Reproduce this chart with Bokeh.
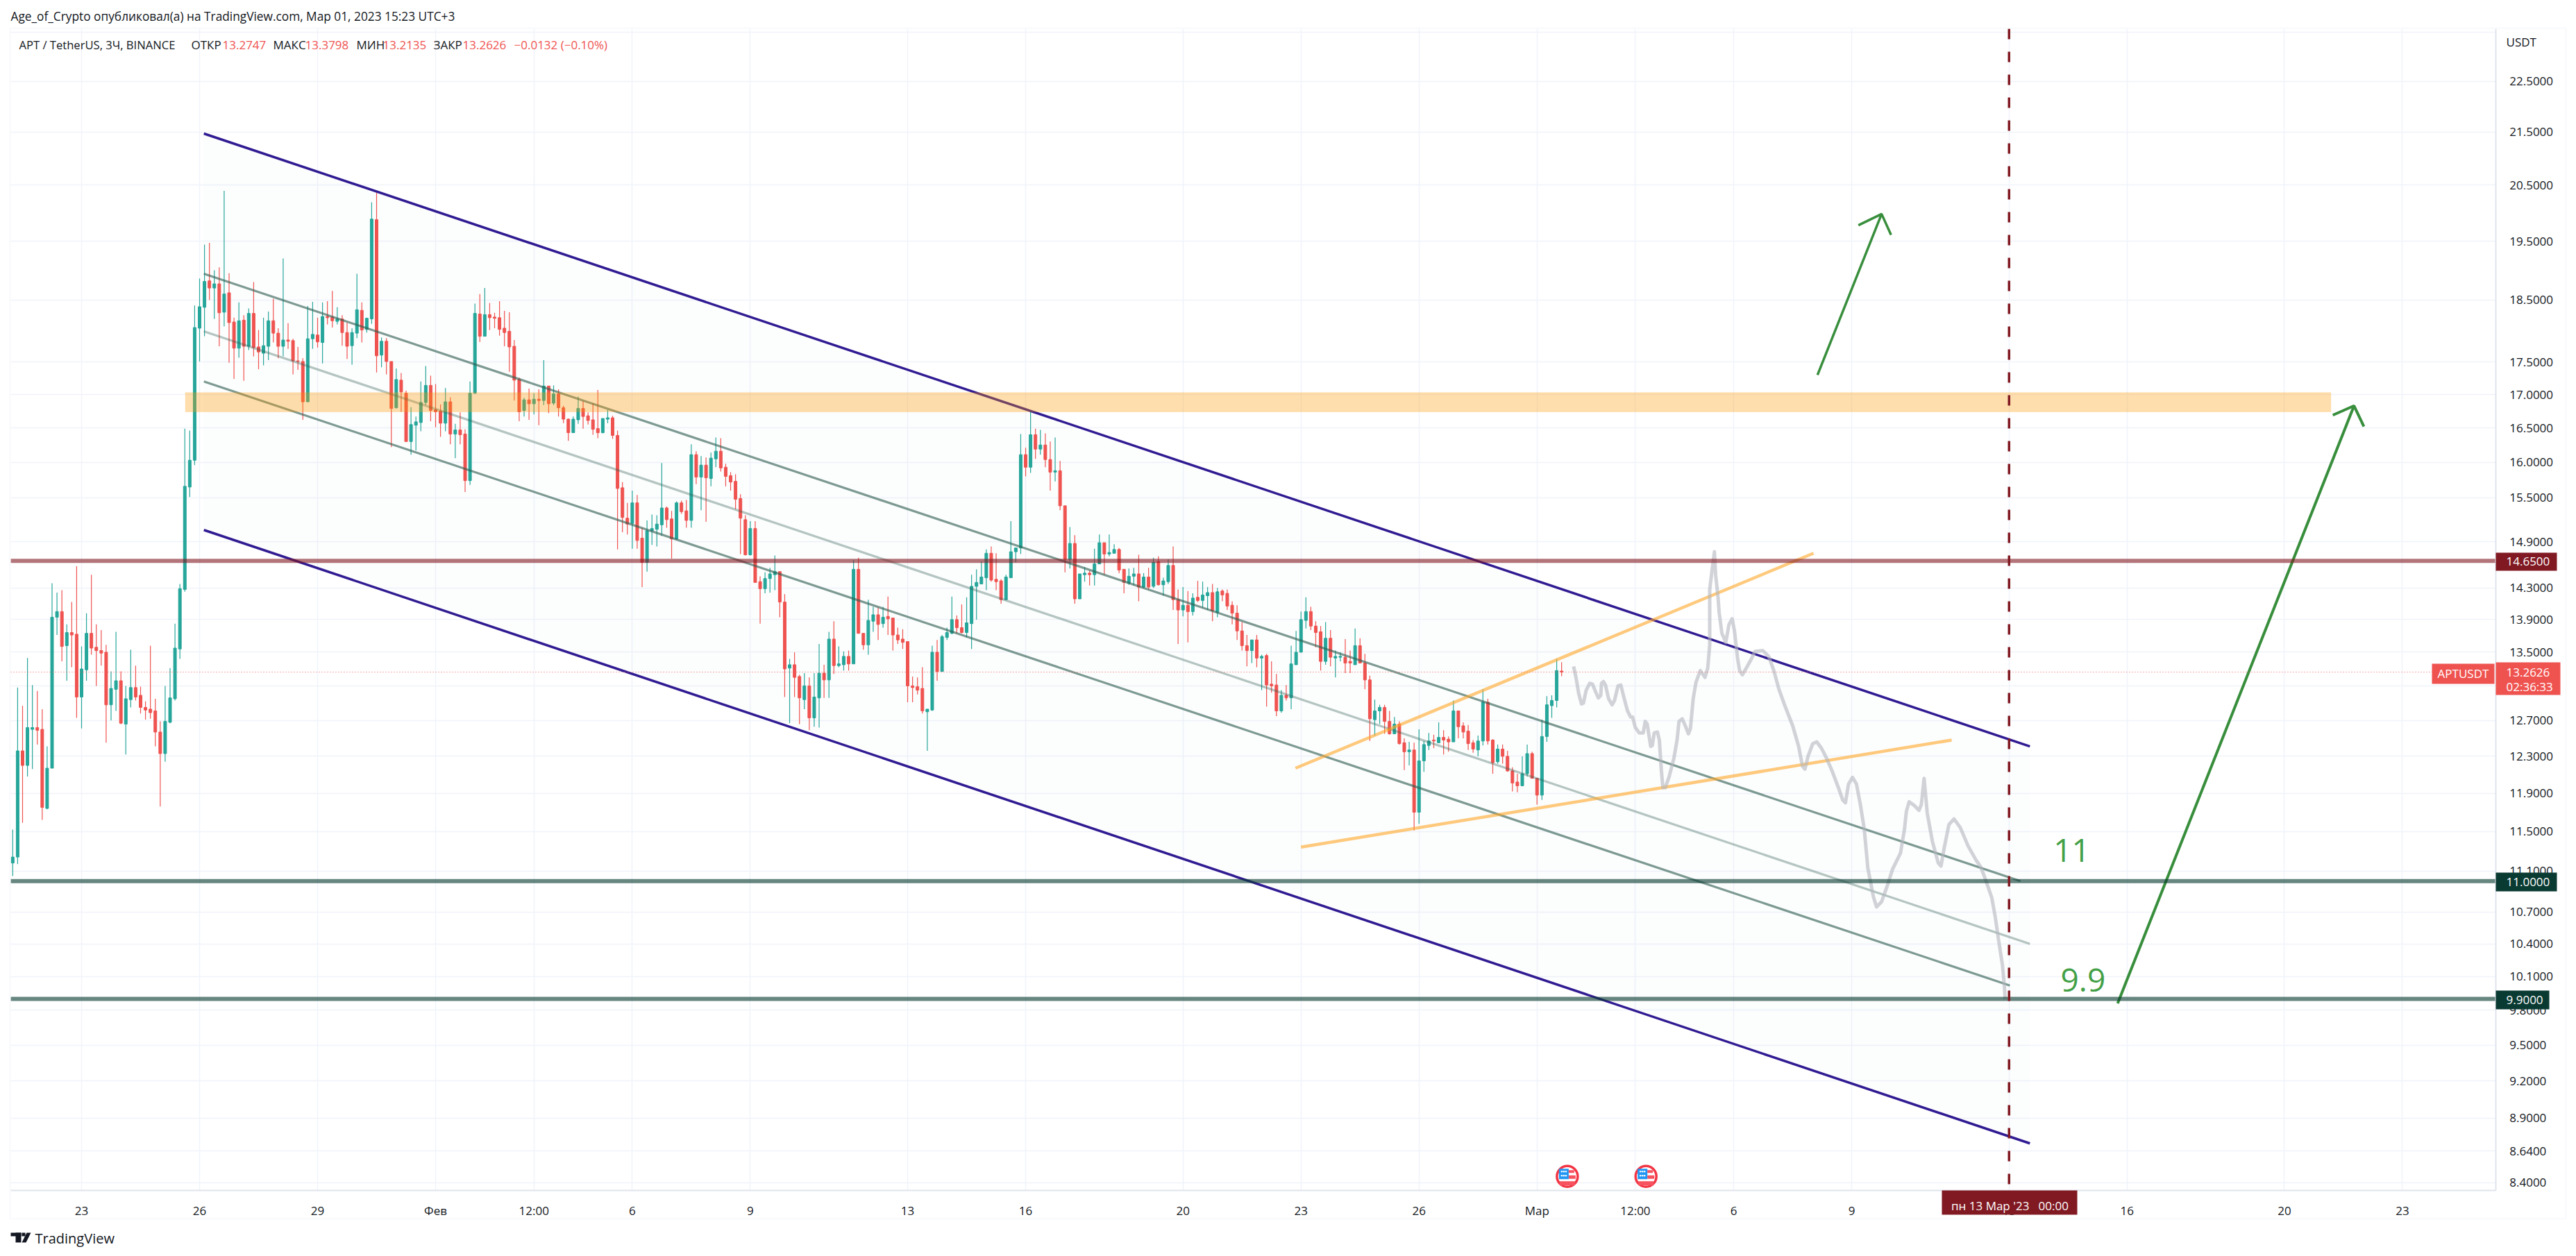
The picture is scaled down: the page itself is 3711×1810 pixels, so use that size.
# APT/USDT 3h chart with channel and levels, drawn like the TradingView snapshot
from math import exp

from bokeh.core.properties import value
from bokeh.embed import file_html
from bokeh.models import BoxAnnotation, ColumnDataSource, FixedTicker, Label, PolyAnnotation, Range1d
from bokeh.plotting import figure
from bokeh.resources import INLINE

# candles, 3h bars, first bar is 1.75 days before Jan 23
first_day = -1.75
bar_step = 0.125

opens = [
    11.18, 11.24, 12.36, 12.20, 12.60, 12.62, 12.60, 11.74, 12.17, 13.93,
    14.00, 13.58, 13.74, 13.72, 12.97, 13.29, 13.73, 13.56, 13.52, 13.50,
    12.88, 13.06, 13.16, 12.66, 12.94, 13.08, 12.99, 12.85, 12.83, 12.81,
    12.57, 12.33, 12.68, 12.95, 13.54, 14.28, 15.65, 16.03, 18.04, 18.38,
    18.82, 18.70, 18.77, 18.30, 18.62, 18.14, 17.72, 18.17, 17.75, 18.28,
    17.74, 17.64, 17.75, 18.16, 17.96, 17.75, 17.85, 17.84, 17.52, 17.51,
    16.89, 17.87, 17.93, 17.81, 18.23, 18.22, 18.15, 18.19, 17.97, 17.76,
    17.96, 18.33, 18.02, 18.19, 19.88, 17.61, 17.83, 17.51, 16.80, 17.22,
    17.02, 16.30, 16.54, 16.58, 16.88, 17.14, 16.77, 16.75, 16.57, 16.89,
    16.41, 16.47, 16.41, 15.74, 17.02, 18.27, 17.91, 18.26, 18.22, 18.21,
    18.04, 17.99, 17.75, 17.23, 16.76, 16.92, 16.86, 16.93, 16.91, 17.13,
    16.87, 17.01, 16.80, 16.63, 16.43, 16.62, 16.79, 16.68, 16.62, 16.49,
    16.43, 16.63, 16.65, 16.39, 15.64, 15.22, 15.15, 15.43, 14.95, 14.63,
    15.05, 15.07, 15.13, 15.36, 15.21, 14.94, 15.43, 15.32, 15.19, 16.11,
    15.79, 15.96, 15.77, 16.05, 16.16, 15.93, 15.81, 15.73, 15.49, 15.20,
    14.73, 15.08, 14.38, 14.29, 14.42, 14.47, 14.51, 14.12, 13.31, 13.35,
    13.21, 12.94, 13.10, 12.73, 12.96, 13.25, 13.17, 13.66, 13.34, 13.35,
    13.45, 13.36, 14.54, 13.73, 13.59, 13.88, 13.96, 13.85, 13.94, 13.92,
    13.71, 13.66, 13.63, 13.10, 13.09, 13.07, 12.80, 12.82, 13.50, 13.27,
    13.68, 13.73, 13.90, 13.80, 13.74, 13.85, 14.32, 14.35, 14.43, 14.75,
    14.41, 14.39, 14.15, 14.43, 14.77, 14.82, 16.11, 15.93, 16.40, 16.19,
    16.25, 16.04, 15.86, 15.88, 15.39, 14.67, 14.88, 14.16, 14.47, 14.49,
    14.47, 14.61, 14.89, 14.74, 14.75, 14.80, 14.54, 14.36, 14.45, 14.48,
    14.31, 14.44, 14.32, 14.64, 14.34, 14.38, 14.59, 14.15, 14.02, 14.08,
    14.00, 14.18, 14.14, 14.20, 14.24, 13.99, 14.26, 14.23, 14.08, 13.98,
    13.76, 13.58, 13.52, 13.65, 13.43, 13.46, 13.12, 13.11, 12.81, 12.99,
    12.96, 13.35, 13.50, 13.89, 14.00, 13.82, 13.75, 13.39, 13.67, 13.43,
    13.44, 13.44, 13.39, 13.35, 13.58, 13.37, 13.17, 12.71, 12.81, 12.85,
    12.69, 12.55, 12.66, 12.45, 12.35, 12.37, 11.70, 12.25, 12.42, 12.48,
    12.45, 12.51, 12.49, 12.46, 12.81, 12.64, 12.58, 12.45, 12.37, 12.47,
    12.91, 12.48, 12.24, 12.38, 12.30, 12.14, 12.02, 11.98, 12.11, 12.33,
    12.06, 11.88, 12.52, 12.87, 12.93, 13.2747,
]
closes = [
    11.24, 12.36, 12.20, 12.62, 12.62, 12.59, 11.75, 12.17, 13.93, 14.00,
    13.57, 13.74, 13.71, 12.97, 13.30, 13.73, 13.55, 13.52, 13.49, 12.88,
    13.07, 13.16, 12.67, 12.95, 13.08, 12.97, 12.85, 12.82, 12.79, 12.57,
    12.33, 12.69, 12.96, 13.55, 14.29, 15.66, 16.03, 18.05, 18.39, 18.81,
    18.70, 18.77, 18.29, 18.60, 18.13, 17.72, 18.16, 17.75, 18.28, 17.73,
    17.66, 17.76, 18.16, 17.96, 17.75, 17.85, 17.83, 17.52, 17.51, 16.89,
    17.87, 17.94, 17.82, 18.23, 18.21, 18.16, 18.19, 17.97, 17.75, 17.97,
    18.34, 18.01, 18.20, 19.89, 17.60, 17.83, 17.51, 16.79, 17.23, 17.04,
    16.30, 16.55, 16.59, 16.88, 17.14, 16.76, 16.74, 16.57, 16.89, 16.41,
    16.47, 16.40, 15.74, 17.02, 18.28, 17.91, 18.26, 18.21, 18.20, 18.02,
    17.97, 17.74, 17.22, 16.74, 16.92, 16.86, 16.93, 16.91, 17.13, 16.86,
    17.01, 16.80, 16.63, 16.43, 16.63, 16.79, 16.67, 16.61, 16.48, 16.43,
    16.64, 16.65, 16.39, 15.63, 15.23, 15.14, 15.43, 14.92, 14.63, 15.05,
    15.08, 15.14, 15.36, 15.20, 14.94, 15.43, 15.31, 15.19, 16.11, 15.79,
    15.96, 15.78, 16.06, 16.16, 15.92, 15.80, 15.72, 15.48, 15.22, 14.73,
    15.08, 14.37, 14.29, 14.42, 14.48, 14.51, 14.12, 13.30, 13.35, 13.20,
    12.96, 13.10, 12.73, 12.97, 13.25, 13.17, 13.66, 13.34, 13.36, 13.45,
    13.36, 14.54, 13.73, 13.59, 13.89, 13.96, 13.84, 13.93, 13.91, 13.71,
    13.65, 13.62, 13.10, 13.08, 13.05, 12.81, 12.83, 13.50, 13.27, 13.69,
    13.74, 13.90, 13.80, 13.74, 13.86, 14.32, 14.37, 14.44, 14.75, 14.40,
    14.38, 14.15, 14.44, 14.77, 14.82, 16.11, 15.93, 16.40, 16.19, 16.25,
    16.04, 15.86, 15.88, 15.39, 14.67, 14.88, 14.16, 14.48, 14.49, 14.47,
    14.61, 14.89, 14.74, 14.76, 14.80, 14.53, 14.37, 14.45, 14.48, 14.31,
    14.44, 14.31, 14.63, 14.34, 14.39, 14.59, 14.15, 14.02, 14.08, 14.00,
    14.17, 14.14, 14.21, 14.24, 14.01, 14.25, 14.21, 14.07, 13.98, 13.76,
    13.58, 13.52, 13.65, 13.43, 13.45, 13.11, 13.10, 12.81, 12.99, 12.96,
    13.36, 13.50, 13.90, 14.00, 13.82, 13.74, 13.39, 13.67, 13.44, 13.45,
    13.45, 13.37, 13.37, 13.58, 13.37, 13.17, 12.72, 12.81, 12.85, 12.69,
    12.55, 12.66, 12.44, 12.35, 12.37, 11.70, 12.25, 12.43, 12.47, 12.47,
    12.51, 12.48, 12.46, 12.81, 12.63, 12.57, 12.44, 12.38, 12.47, 12.91,
    12.47, 12.23, 12.38, 12.30, 12.14, 12.01, 11.98, 12.11, 12.33, 12.06,
    11.88, 12.52, 12.88, 12.93, 13.28, 13.2626,
]
highs = [
    11.52, 13.08, 12.87, 13.43, 13.11, 13.04, 12.83, 12.41, 14.36, 14.24,
    14.27, 13.84, 14.12, 14.58, 13.57, 13.98, 14.47, 13.84, 13.77, 13.59,
    13.27, 13.75, 13.27, 13.10, 13.53, 13.34, 13.09, 12.92, 13.58, 12.95,
    12.69, 13.10, 13.31, 13.85, 14.35, 16.49, 16.46, 18.41, 18.86, 19.44,
    19.47, 19.00, 19.05, 20.40, 18.95, 18.21, 18.46, 18.25, 18.36, 18.80,
    18.01, 18.21, 18.31, 18.52, 18.04, 19.20, 18.12, 17.87, 17.74, 17.56,
    18.40, 18.47, 18.21, 18.46, 18.48, 18.65, 18.38, 18.25, 18.13, 18.04,
    18.94, 18.46, 18.21, 20.19, 20.37, 17.89, 17.88, 17.51, 17.40, 17.33,
    17.06, 16.81, 16.67, 17.20, 17.44, 17.29, 17.16, 16.85, 17.10, 16.96,
    16.56, 16.73, 16.48, 17.20, 18.44, 18.60, 18.70, 18.45, 18.29, 18.48,
    18.32, 18.30, 17.85, 17.26, 16.95, 17.09, 17.02, 17.08, 17.53, 17.13,
    17.14, 17.08, 16.83, 16.64, 16.67, 16.97, 16.90, 16.73, 16.87, 17.07,
    16.64, 16.77, 16.68, 16.46, 15.72, 15.43, 15.60, 15.54, 15.09, 15.19,
    15.27, 15.26, 15.99, 15.38, 15.32, 15.45, 15.46, 15.47, 16.26, 16.16,
    16.09, 16.07, 16.14, 16.36, 16.35, 15.98, 15.86, 15.83, 15.55, 15.26,
    15.18, 15.18, 14.45, 14.50, 14.56, 14.72, 14.51, 14.22, 13.42, 13.50,
    13.23, 13.25, 13.20, 13.25, 13.60, 13.35, 13.75, 13.88, 13.57, 13.51,
    13.52, 14.66, 14.69, 13.73, 14.15, 14.06, 14.05, 14.06, 14.19, 13.92,
    13.80, 13.78, 13.63, 13.21, 13.20, 13.32, 12.83, 13.58, 13.65, 13.71,
    13.80, 14.19, 13.95, 14.09, 14.18, 14.47, 14.54, 14.64, 14.80, 14.84,
    14.75, 14.41, 14.47, 15.18, 14.82, 16.41, 16.21, 16.75, 16.49, 16.47,
    16.42, 16.30, 16.36, 16.02, 15.39, 15.10, 14.99, 14.48, 14.57, 14.52,
    14.81, 15.00, 14.89, 15.00, 14.87, 14.82, 14.54, 14.55, 14.56, 14.73,
    14.49, 14.56, 14.69, 14.71, 14.43, 14.67, 14.84, 14.28, 14.31, 14.26,
    14.23, 14.39, 14.38, 14.31, 14.35, 14.30, 14.28, 14.28, 14.13, 14.08,
    13.87, 13.71, 13.65, 13.71, 13.47, 13.48, 13.39, 13.24, 13.05, 13.11,
    13.58, 13.76, 14.00, 14.18, 14.06, 13.88, 13.82, 13.87, 13.77, 13.52,
    13.50, 13.66, 13.52, 13.79, 13.67, 13.48, 13.22, 12.94, 12.88, 12.88,
    12.81, 12.74, 12.69, 12.50, 12.46, 12.45, 12.60, 12.47, 12.56, 12.54,
    12.68, 12.59, 12.52, 12.93, 12.81, 12.68, 12.65, 12.48, 12.53, 13.06,
    12.95, 12.49, 12.43, 12.43, 12.36, 12.18, 12.11, 12.30, 12.43, 12.35,
    12.06, 12.71, 12.98, 12.99, 13.42, 13.3798,
]
lows = [
    11.05, 11.17, 11.59, 12.08, 12.16, 12.43, 11.62, 11.73, 12.17, 13.71,
    13.39, 13.16, 13.32, 12.73, 12.61, 13.16, 13.47, 13.10, 13.34, 12.45,
    12.70, 12.81, 12.66, 12.32, 12.85, 12.93, 12.78, 12.71, 12.72, 12.41,
    11.76, 12.24, 12.67, 12.93, 13.42, 14.25, 15.51, 15.96, 17.51, 17.91,
    18.50, 18.19, 17.75, 18.07, 17.49, 17.24, 17.57, 17.21, 17.69, 17.59,
    17.39, 17.45, 17.53, 17.81, 17.56, 17.59, 17.71, 17.31, 17.38, 16.62,
    16.89, 17.71, 17.73, 17.48, 18.10, 18.05, 18.10, 17.76, 17.55, 17.46,
    17.88, 17.81, 17.97, 18.11, 17.34, 17.42, 17.31, 16.22, 16.79, 16.74,
    16.30, 16.11, 16.17, 16.45, 16.84, 16.60, 16.51, 16.37, 16.45, 16.26,
    16.06, 16.26, 15.58, 15.68, 17.01, 17.82, 17.91, 18.01, 18.04, 17.92,
    17.75, 17.35, 16.91, 16.60, 16.67, 16.62, 16.70, 16.54, 16.84, 16.72,
    16.84, 16.67, 16.57, 16.31, 16.43, 16.56, 16.49, 16.55, 16.40, 16.35,
    16.42, 16.57, 16.34, 14.80, 15.03, 15.00, 14.81, 14.81, 14.31, 14.51,
    14.86, 14.84, 14.98, 15.09, 14.68, 14.93, 15.28, 15.09, 15.09, 15.69,
    15.33, 15.17, 15.66, 15.93, 15.87, 15.66, 15.60, 15.34, 14.74, 14.72,
    14.72, 14.37, 13.85, 14.23, 14.24, 14.27, 13.93, 12.97, 12.67, 12.97,
    12.66, 12.83, 12.59, 12.63, 12.62, 12.96, 12.96, 13.24, 13.32, 13.28,
    13.28, 13.36, 13.73, 13.53, 13.47, 13.75, 13.65, 13.80, 13.71, 13.52,
    13.60, 13.54, 12.91, 12.91, 13.00, 12.78, 12.36, 12.81, 13.16, 13.27,
    13.65, 13.72, 13.73, 13.73, 13.68, 13.54, 13.90, 14.35, 14.27, 14.38,
    14.27, 14.10, 14.15, 14.43, 14.63, 14.74, 15.80, 15.85, 16.05, 16.11,
    15.93, 15.60, 15.73, 15.33, 14.50, 14.55, 14.10, 14.16, 14.38, 14.33,
    14.33, 14.61, 14.47, 14.71, 14.75, 14.49, 14.23, 14.34, 14.33, 14.13,
    14.30, 14.28, 14.30, 14.33, 14.20, 14.35, 14.02, 13.60, 13.94, 13.62,
    13.95, 14.12, 14.05, 14.02, 13.88, 13.93, 14.13, 14.02, 13.84, 13.65,
    13.52, 13.33, 13.37, 13.32, 13.05, 12.86, 13.02, 12.75, 12.79, 12.93,
    12.83, 13.35, 13.50, 13.79, 13.77, 13.56, 13.28, 13.35, 13.33, 13.20,
    13.39, 13.25, 13.25, 13.35, 13.37, 13.06, 12.47, 12.53, 12.66, 12.55,
    12.54, 12.55, 12.43, 12.15, 12.20, 11.51, 11.58, 12.13, 12.37, 12.39,
    12.45, 12.32, 12.35, 12.46, 12.50, 12.50, 12.37, 12.34, 12.30, 12.42,
    12.43, 12.11, 12.22, 12.22, 12.13, 11.92, 11.91, 11.98, 12.08, 12.06,
    11.78, 11.83, 12.46, 12.73, 12.85, 13.2135,
]

# axis ticks: day number counted from Jan 23
time_ticks = [0, 3, 6, 9, 11.5, 14, 17, 21, 24, 28, 31, 34, 37, 39.5, 42, 45, 49, 52, 56, 59]
time_labels = ["23", "26", "29", "Фев", "12:00", "6", "9", "13", "16", "20", "23", "26", "Мар",
               "12:00", "6", "9", "13", "16", "20", "23"]
price_ticks = [23.5, 22.5, 21.5, 20.5, 19.5, 18.5, 17.5, 17.0, 16.5, 16.0, 15.5, 14.9, 14.3, 13.9, 13.5,
               13.1, 12.7, 12.3, 11.9, 11.5, 11.1, 10.7, 10.4, 10.1, 9.8, 9.5, 9.2, 8.9, 8.64, 8.4]
price_labels = ["", "22.5000", "21.5000", "20.5000", "19.5000", "18.5000", "17.5000", "17.0000", "16.5000",
                "16.0000", "15.5000", "14.9000", "14.3000", "13.9000", "13.5000", "13.1000", "12.7000",
                "12.3000", "11.9000", "11.5000", "11.1000", "10.7000", "10.4000", "10.1000", "9.8000",
                "9.5000", "9.2000", "8.9000", "8.6400", "8.4000"]

# chart area limits in chart units, the canvas itself reaches a bit further
chart_left = -1.8
chart_right = 61.37
chart_bottom = 8.343
chart_top = 23.58
canvas_left = -2.0646
canvas_right = 63.28
canvas_bottom = 7.903
canvas_top = 24.188

# channel drawing
channel_upper_x = [3.11, 49.53]
channel_upper_y = [21.47, 12.41]
channel_lower_x = [3.11, 49.53]
channel_lower_y = [15.06, 8.70]
inner_upper_x = [3.11, 49.29]
inner_upper_y = [18.94, 11.00]
inner_mid_x = [3.11, 49.53]
inner_mid_y = [17.99, 10.40]
inner_lower_x = [3.11, 49.02]
inner_lower_y = [17.20, 10.02]

# wedge lines
wedge_upper_x = [30.86, 44.03]
wedge_upper_y = [12.17, 14.75]
wedge_lower_x = [31.00, 47.54]
wedge_lower_y = [11.34, 12.48]

# levels and zone
level_red = 14.65
level_top = 11.0
level_bottom = 9.9
last_price = 13.2626
marker_day = 49
zone_left = 2.64
zone_right = 57.18
zone_top = 17.03
zone_bottom = 16.74

# hand drawn forecast
path_days = [
    37.93, 37.99, 38.06, 38.13, 38.18, 38.25, 38.34, 38.41, 38.49, 38.56, 38.62, 38.64, 38.69, 38.74, 38.82,
    38.91, 38.97, 39.06, 39.13, 39.20, 39.30, 39.38, 39.43, 39.50, 39.60, 39.70, 39.75, 39.80, 39.89, 39.93,
    39.98, 40.06, 40.11, 40.16, 40.20, 40.26, 40.36, 40.48, 40.56, 40.61, 40.69, 40.77, 40.85, 40.90, 40.97,
    41.04, 41.15, 41.27, 41.34, 41.39, 41.39, 41.46, 41.51, 41.54, 41.60, 41.63, 41.70, 41.80, 41.88, 41.96,
    42.02, 42.10, 42.15, 42.22, 42.32, 42.45, 42.54, 42.74, 42.89, 43.02, 43.15, 43.30, 43.50, 43.65, 43.75,
    43.81, 43.89, 44.01, 44.11, 44.23, 44.36, 44.51, 44.67, 44.77, 44.84, 44.92, 45.02, 45.12, 45.22, 45.32,
    45.41, 45.55, 45.63, 45.76, 45.90, 46.04, 46.24, 46.34, 46.39, 46.46, 46.59, 46.71, 46.77, 46.84, 46.92,
    47.05, 47.20, 47.27, 47.35, 47.47, 47.60, 47.76, 47.96, 48.16, 48.28, 48.37, 48.56, 48.65, 48.74, 48.83,
    48.88, 48.90,
]
path_prices = [
    13.33, 13.20, 13.01, 12.89, 12.90, 13.05, 13.13, 13.12, 13.03, 12.96, 12.99, 13.13, 13.15, 13.11, 12.95,
    12.88, 12.93, 13.10, 13.11, 12.98, 12.81, 12.74, 12.74, 12.62, 12.56, 12.56, 12.69, 12.66, 12.41, 12.42,
    12.56, 12.57, 12.48, 12.15, 11.96, 11.96, 12.08, 12.28, 12.48, 12.69, 12.72, 12.64, 12.55, 12.61, 12.95,
    13.14, 13.28, 13.20, 13.31, 13.59, 14.28, 14.57, 14.77, 14.47, 14.19, 13.99, 13.73, 13.62, 13.84, 13.91,
    13.76, 13.42, 13.28, 13.23, 13.31, 13.42, 13.51, 13.52, 13.45, 13.28, 13.06, 12.87, 12.64, 12.41, 12.19,
    12.16, 12.30, 12.44, 12.46, 12.39, 12.28, 12.13, 11.95, 11.83, 11.80, 12.00, 12.07, 12.00, 11.78, 11.52,
    11.13, 10.85, 10.75, 10.80, 10.95, 11.12, 11.28, 11.52, 11.71, 11.81, 11.77, 11.72, 11.78, 12.06, 11.69,
    11.40, 11.18, 11.15, 11.33, 11.57, 11.63, 11.54, 11.35, 11.21, 11.14, 11.05, 10.84, 10.65, 10.42, 10.21,
    10.02, 9.90,
]

# arrows
big_arrow_x = [51.76, 57.77]
big_arrow_y = [9.86, 16.83]
big_head_x = [57.23, 57.77, 58.02]
big_head_y = [16.69, 16.83, 16.52]
small_arrow_x = [44.13, 45.76]
small_arrow_y = [17.30, 19.98]
small_head_x = [45.17, 45.76, 46.00]
small_head_y = [19.78, 19.98, 19.61]

# events on the time line
event_days = [37.77, 39.77]
event_price = 8.447

GREEN = "#26a69a"
RED = "#ef5350"
DARK_RED = "#801922"
DARK_GREEN = "#0a3b32"
ARROW = "#388e3c"
TEXT = "#131722"
FONT = "Open Sans"
WIDTH = 3703
HEIGHT = 1802

days = [first_day + i * bar_step for i in range(len(opens))]
colors = [GREEN if c >= o else RED for o, c in zip(opens, closes)]
source = ColumnDataSource(data=dict(
    day=days, high=highs, low=lows,
    top=[max(o, c) for o, c in zip(opens, closes)],
    bottom=[min(o, c) for o, c in zip(opens, closes)],
    color=colors,
))

# the frame fills the whole canvas so tags and header can sit around the chart area,
# the axes are pinned to the chart area with fixed_location
p = figure(
    width=WIDTH, height=HEIGHT, output_backend="svg", toolbar_location=None,
    y_axis_type="log", y_axis_location="right",
    x_range=Range1d(canvas_left, canvas_right), y_range=Range1d(canvas_bottom, canvas_top),
    min_border=0,
)
p.outline_line_color = None
p.xgrid.grid_line_color = "#f0f3fa"
p.ygrid.grid_line_color = "#f0f3fa"
p.xgrid.grid_line_width = 1.5
p.ygrid.grid_line_width = 1.5

p.xaxis.ticker = FixedTicker(ticks=time_ticks)
p.xaxis.major_label_overrides = dict(zip(time_ticks, time_labels))
p.xaxis.fixed_location = chart_bottom
p.xaxis.bounds = (chart_left, chart_right)
p.yaxis.ticker = FixedTicker(ticks=price_ticks)
p.yaxis.major_label_overrides = dict(zip(price_ticks, price_labels))
p.yaxis.fixed_location = chart_right
p.yaxis.bounds = (chart_bottom, chart_top)
for axis in (p.xaxis, p.yaxis):
    axis.axis_line_color = "#e0e3eb"
    axis.axis_line_width = 2
    axis.major_tick_line_color = None
    axis.minor_tick_line_color = None
    axis.major_label_text_color = TEXT
    axis.major_label_text_font = FONT
    axis.major_label_text_font_size = "17px"
p.xaxis.major_label_standoff = 12
p.yaxis.major_label_standoff = 14

# white strips keep the grid inside the chart area
p.quad(
    left=[canvas_left, chart_right, canvas_left, canvas_left],
    right=[chart_left, canvas_right, canvas_right, canvas_right],
    top=[canvas_top, canvas_top, canvas_top, chart_bottom],
    bottom=[canvas_bottom, canvas_bottom, chart_top, canvas_bottom],
    fill_color="white", line_color=None,
)

# channel background goes under the candles
p.patch(
    channel_upper_x + channel_lower_x[::-1], channel_upper_y + channel_lower_y[::-1],
    fill_color="#2e7d6b", fill_alpha=0.016, line_color=None,
)

# wicks then bodies
p.segment(x0="day", x1="day", y0="low", y1="high", line_color="color", line_width=1.2, source=source)
p.vbar(x="day", width=0.07, top="top", bottom="bottom", fill_color="color", line_color="color", line_width=1, source=source)

p.line(inner_upper_x, inner_upper_y, line_color="#2e5d50", line_alpha=0.62, line_width=3.2)
p.line(inner_mid_x, inner_mid_y, line_color="#2e5d50", line_alpha=0.35, line_width=3.2)
p.line(inner_lower_x, inner_lower_y, line_color="#2e5d50", line_alpha=0.62, line_width=3.2)
p.line(channel_upper_x, channel_upper_y, line_color="#311b92", line_width=3.5)
p.line(channel_lower_x, channel_lower_y, line_color="#311b92", line_width=3.5)
p.quad(left=[zone_left], right=[zone_right], top=[zone_top], bottom=[zone_bottom],
       fill_color="#ff9800", fill_alpha=0.32, line_color="#ff9800", line_alpha=0.15)
p.line(wedge_upper_x, wedge_upper_y, line_color="#ffa726", line_alpha=0.6, line_width=4.5)
p.line(wedge_lower_x, wedge_lower_y, line_color="#ffa726", line_alpha=0.6, line_width=4.5)
p.line(path_days, path_prices, line_color="#b2b5be", line_alpha=0.6, line_width=5, line_join="round")

p.line(big_arrow_x, big_arrow_y, line_color=ARROW, line_width=4)
p.line(big_head_x, big_head_y, line_color=ARROW, line_width=4)
p.line(small_arrow_x, small_arrow_y, line_color=ARROW, line_width=3.5)
p.line(small_head_x, small_head_y, line_color=ARROW, line_width=3.5)

p.text(x=[50.13], y=[11.31], text=["11"], text_color="#43a047", text_font=value(FONT),
       text_font_size="46px", text_baseline="alphabetic")
p.text(x=[50.31], y=[10.07], text=["9.9"], text_color="#43a047", text_font=value(FONT),
       text_font_size="46px", text_baseline="alphabetic")

# little US flags, pixel offsets turned into chart units
PX_DAY = 56.67
PX_LOG = 1611.0


def flag_rect(day, dx, dy, w, h, color):
    p.rect(x=[day + dx / PX_DAY], y=[event_price * exp(-dy / PX_LOG)], width=w, height=h,
           width_units="screen", height_units="screen", fill_color=color, line_color=None)


for d in event_days:
    p.scatter(x=[d], y=[event_price], size=30, marker="circle", fill_color="white",
              line_color="#f23645", line_width=3.5)
    flag_rect(d, -5, -3.5, 14, 15, "#2196f3")
    flag_rect(d, 6, -7, 8, 4, "#f7525f")
    flag_rect(d, 7, 1, 10, 5, "#f7525f")
    flag_rect(d, 0, 10, 22, 6, "#f7525f")
    p.scatter(x=[d - 8 / PX_DAY, d - 5 / PX_DAY, d - 2 / PX_DAY], y=[event_price * exp(7 / PX_LOG)] * 3,
              size=2.5, marker="circle", fill_color="white", line_color=None)
    p.scatter(x=[d - 8 / PX_DAY, d - 5 / PX_DAY, d - 2 / PX_DAY], y=[event_price * exp(1 / PX_LOG)] * 3,
              size=2.5, marker="circle", fill_color="white", line_color=None)

# horizontal levels across the chart area, dashed marker on top
level_x = [chart_left, chart_right]
p.line(level_x, [last_price, last_price], line_color=RED, line_dash="1 3", line_width=1.2)
p.line(level_x, [level_red, level_red], line_color=DARK_RED, line_alpha=0.6, line_width=6)
p.line(level_x, [level_top, level_top], line_color=DARK_GREEN, line_alpha=0.62, line_width=6)
p.line(level_x, [level_bottom, level_bottom], line_color=DARK_GREEN, line_alpha=0.62, line_width=6)
p.line([marker_day, marker_day], [chart_top, chart_bottom], line_color=DARK_RED, line_dash="15 18", line_width=3.5)


# page pixels to the screen units that annotations use
def sy(py):
    return HEIGHT - py


def box(x0, x1, y0, y1, color=None, line=None, line_width=1):
    p.add_layout(BoxAnnotation(
        left=x0, right=x1, top=sy(y0), bottom=sy(y1),
        left_units="screen", right_units="screen", top_units="screen", bottom_units="screen",
        fill_color=color, fill_alpha=1 if color else 0, line_color=line, line_width=line_width,
    ))


def label(px, py, text, color=TEXT, size="17px", align="left", style="normal"):
    p.add_layout(Label(
        x=px, y=sy(py), x_units="screen", y_units="screen", text=text, text_color=color,
        text_font=FONT, text_font_size=size, text_align=align, text_baseline="middle", text_font_style=style,
    ))


# outer frame of the widget
box(14, 3696, 40, 1756, line="#f0f3fa", line_width=3)

# price tags on the scale
box(3595, 3683, 796, 822, color=DARK_RED)
label(3610, 808, "14.6500", color="white")
box(3595, 3683, 1257, 1284, color=DARK_GREEN)
label(3610, 1270, "11.0000", color="white")
box(3595, 3672, 1427, 1454, color=DARK_GREEN)
label(3610, 1440, "9.9000", color="white")
box(3503, 3593, 956, 985, color=RED)
label(3548, 970, "APTUSDT", color="white", align="center")
box(3595, 3688, 954, 1001, color=RED)
label(3610, 968, "13.2626", color="white")
label(3610, 989, "02:36:33", color="white")

# date tag under the dashed marker
box(2797, 2992, 1715, 1750, color=DARK_RED)
label(2895, 1737, "пн 13 Мар '23\u00a0\u00a0\u00a000:00", color="white", align="center")

label(3610, 60, "USDT")

# header lines
label(15, 23, "Age_of_Crypto опубликовал(а) на TradingView.com, Мар 01, 2023 15:23 UTC+3", size="17.3px")
label(27, 64, "APT / TetherUS, 3Ч, BINANCE", size="16.6px")
label(275, 64, "ОТКР")
label(320, 64, "13.2747", color=RED)
label(393, 64, "МАКС")
label(439, 64, "13.3798", color=RED)
label(513, 64, "МИН")
label(551, 64, "13.2135", color=RED)
label(624, 64, "ЗАКР")
label(666, 64, "13.2626", color=RED)
label(740, 64, "−0.0132 (−0.10%)", color=RED)

# TradingView mark and name
box(15, 30, 1776, 1781, color=TEXT)
box(22, 30, 1776, 1790, color=TEXT)
box(31, 36, 1776, 1781, color=TEXT)
p.add_layout(PolyAnnotation(
    xs=[38, 44, 37, 31], ys=[sy(1776), sy(1776), sy(1790), sy(1790)],
    xs_units="screen", ys_units="screen", fill_color=TEXT, fill_alpha=1, line_color=None,
))
label(50, 1784, "TradingView", size="20px")

open("out.html", "w").write(file_html(p, INLINE))
